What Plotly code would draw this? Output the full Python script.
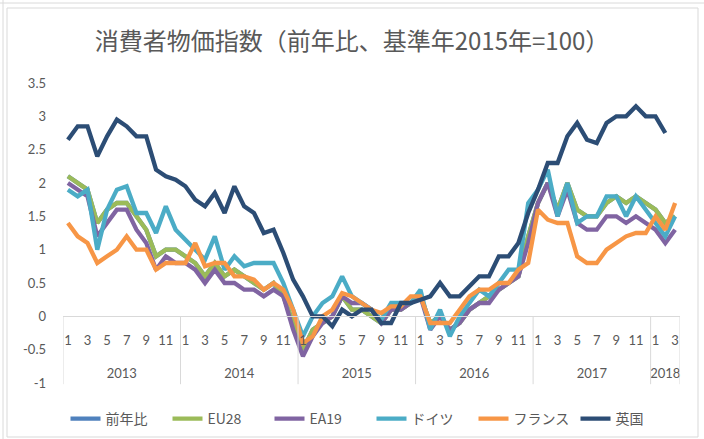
import plotly.graph_objects as go

# ---- data (monthly, Jan 2013 - Mar 2018) ----
years = ["2013", "2014", "2015", "2016", "2017", "2018"]
months_per_year = [12, 12, 12, 12, 12, 3]
month_labels = ["1", "3", "5", "7", "9", "11"]

yoy = [2.1, 2.0, 1.9, 1.4, 1.6, 1.7, 1.7, 1.5, 1.3, 0.9, 1.0, 1.0,
       0.9, 0.8, 0.6, 0.8, 0.6, 0.7, 0.6, 0.5, 0.4, 0.5, 0.3, -0.1,
       -0.5, -0.2, -0.1, 0.0, 0.3, 0.1, 0.1, 0.0, -0.1, 0.1, 0.1, 0.2,
       0.3, -0.1, 0.0, -0.2, -0.1, 0.1, 0.2, 0.3, 0.4, 0.5, 0.6, 1.2,
       1.7, 2.0, 1.6, 2.0, 1.6, 1.5, 1.5, 1.7, 1.8, 1.7, 1.8, 1.7,
       1.6, 1.4, 1.5]

eu28 = [2.1, 2.0, 1.9, 1.4, 1.6, 1.7, 1.7, 1.5, 1.3, 0.9, 1.0, 1.0,
        0.9, 0.8, 0.6, 0.8, 0.6, 0.7, 0.6, 0.5, 0.4, 0.5, 0.3, -0.1,
        -0.5, -0.2, -0.1, 0.0, 0.3, 0.1, 0.1, 0.0, -0.1, 0.1, 0.1, 0.2,
        0.3, -0.1, 0.0, -0.2, -0.1, 0.1, 0.2, 0.3, 0.4, 0.5, 0.6, 1.2,
        1.7, 2.0, 1.6, 2.0, 1.6, 1.5, 1.5, 1.7, 1.8, 1.7, 1.8, 1.7,
        1.6, 1.4, 1.5]

ea19 = [2.0, 1.9, 1.8, 1.2, 1.4, 1.6, 1.6, 1.3, 1.1, 0.7, 0.9, 0.8,
        0.8, 0.7, 0.5, 0.7, 0.5, 0.5, 0.4, 0.4, 0.3, 0.4, 0.3, -0.2,
        -0.6, -0.3, -0.1, 0.0, 0.3, 0.2, 0.2, 0.1, -0.1, 0.1, 0.1, 0.2,
        0.3, -0.2, 0.0, -0.2, -0.1, 0.1, 0.2, 0.2, 0.4, 0.5, 0.6, 1.1,
        1.7, 2.0, 1.5, 1.9, 1.4, 1.3, 1.3, 1.5, 1.5, 1.4, 1.5, 1.4,
        1.3, 1.1, 1.3]

germany = [1.9, 1.8, 1.9, 1.0, 1.6, 1.9, 1.95, 1.55, 1.55, 1.25, 1.65, 1.3,
           1.15, 1.0, 0.85, 1.2, 0.7, 0.9, 0.75, 0.8, 0.8, 0.8, 0.5, 0.1,
           -0.3, 0.0, 0.2, 0.3, 0.6, 0.3, 0.2, 0.1, -0.05, 0.2, 0.2, 0.2,
           0.4, -0.2, 0.1, -0.3, 0.0, 0.2, 0.4, 0.3, 0.5, 0.7, 0.7, 1.7,
           1.9, 2.2, 1.5, 2.0, 1.4, 1.5, 1.5, 1.8, 1.8, 1.5, 1.8, 1.6,
           1.4, 1.2, 1.5]

france = [1.4, 1.2, 1.1, 0.8, 0.9, 1.0, 1.2, 1.0, 1.0, 0.7, 0.8, 0.8,
          0.8, 1.1, 0.75, 0.8, 0.8, 0.6, 0.6, 0.55, 0.4, 0.5, 0.4, 0.1,
          -0.4, -0.3, 0.0, 0.1, 0.35, 0.3, 0.2, 0.1, 0.05, 0.15, 0.15, 0.3,
          0.3, -0.1, -0.1, -0.1, 0.1, 0.3, 0.4, 0.4, 0.5, 0.5, 0.7, 0.8,
          1.6, 1.45, 1.4, 1.4, 0.9, 0.8, 0.8, 1.0, 1.1, 1.2, 1.25, 1.25,
          1.5, 1.3, 1.7]

uk = [2.65, 2.85, 2.85, 2.4, 2.7, 2.95, 2.85, 2.7, 2.7, 2.2, 2.1, 2.05,
      1.95, 1.75, 1.65, 1.85, 1.55, 1.95, 1.65, 1.55, 1.25, 1.3, 0.95, 0.55,
      0.3, 0.0, 0.0, -0.15, 0.1, 0.0, 0.1, 0.1, -0.1, -0.1, 0.2, 0.2,
      0.25, 0.3, 0.5, 0.3, 0.3, 0.45, 0.6, 0.6, 0.9, 0.9, 1.1, 1.55,
      1.9, 2.3, 2.3, 2.7, 2.9, 2.65, 2.6, 2.9, 3.0, 3.0, 3.15, 3.0,
      3.0, 2.75]

series_names = ["前年比", "EU28", "EA19", "ドイツ", "フランス", "英国"]
series_colors = ["#4F81BD", "#9BBB59", "#8064A2", "#4BACC6", "#F79646", "#2C4D75"]
series_values = [yoy, eu28, ea19, germany, france, uk]

y_tickvals = [-1, -0.5, 0, 0.5, 1, 1.5, 2, 2.5, 3, 3.5]
y_ticktext = ["-1", "-0.5", "0", "0.5", "1", "1.5", "2", "2.5", "3", "3.5"]

title_text = "消費者物価指数（前年比、基準年2015年=100）"

# ---- derived category positions ----
n_total = sum(months_per_year)
x_idx = list(range(n_total))
month_tickvals, month_ticktext = [], []
year_centers, bounds = [], [-0.5]
start = 0
for yname, n in zip(years, months_per_year):
    for m in range(0, n, 2):
        month_tickvals.append(start + m)
        month_ticktext.append(month_labels[m // 2])
    year_centers.append(start + (n - 1) / 2)
    start += n
    bounds.append(start - 0.5)

YMIN, YMAX = -1, 3.5
zero_frac = (0 - YMIN) / (YMAX - YMIN)

GRAY = "#595959"
FONT = "Lato, Noto Sans CJK JP, sans-serif"
JFONT = "Noto Sans CJK JP, sans-serif"

fig = go.Figure()
for name, col, vals in zip(series_names, series_colors, series_values):
    fig.add_trace(go.Scatter(
        x=x_idx[:len(vals)], y=vals, mode="lines", name=name,
        line=dict(color=col, width=4.3), xaxis="x", yaxis="y"))

# year label axis (overlay)
fig.add_trace(go.Scatter(x=[0], y=[None], xaxis="x2", yaxis="y",
                         showlegend=False, hoverinfo="skip"))


def px_x(p):
    return (p - 63) / 617


def px_y(p):
    return (383 - p) / 300


shapes = []
for b in bounds:
    shapes.append(dict(type="line", xref="x", yref="paper", x0=b, x1=b,
                       y0=zero_frac, y1=-0.004,
                       line=dict(color="#d9d9d9", width=1)))
# chart border
shapes.append(dict(type="rect", xref="paper", yref="paper",
                   x0=px_x(7), x1=px_x(698), y0=px_y(437), y1=px_y(8),
                   line=dict(color="#d9d9d9", width=1), layer="below"))
# surrounding sheet cell lines
shapes.append(dict(type="line", xref="paper", yref="paper",
                   x0=px_x(0), x1=px_x(704), y0=px_y(3), y1=px_y(3),
                   line=dict(color="#dadada", width=1), layer="below"))
shapes.append(dict(type="line", xref="paper", yref="paper",
                   x0=px_x(3), x1=px_x(3), y0=px_y(0), y1=px_y(439),
                   line=dict(color="#dadada", width=1), layer="below"))

fig.update_layout(
    width=704, height=439,
    margin=dict(l=63, r=24, t=83, b=56, autoexpand=False),
    paper_bgcolor="white", plot_bgcolor="white",
    title=dict(text=title_text, x=0.5, xanchor="center",
               y=1 - 42 / 439, yanchor="middle", automargin=False,
               font=dict(family=JFONT, size=24, color=GRAY)),
    xaxis=dict(range=[-0.5, n_total - 0.5], anchor="free", position=zero_frac,
               showline=True, linecolor="#d9d9d9", linewidth=1,
               tickvals=month_tickvals, ticktext=month_ticktext, ticks="",
               ticklabelstandoff=12, automargin=False,
               tickfont=dict(family=FONT, size=13, color=GRAY),
               showgrid=False, zeroline=False),
    xaxis2=dict(range=[-0.5, n_total - 0.5], overlaying="x", anchor="free",
                position=(383 - 364) / 300, side="bottom", automargin=False,
                showline=False, tickvals=year_centers, ticktext=years, ticks="",
                tickfont=dict(family=FONT, size=13, color=GRAY),
                showgrid=False, zeroline=False),
    yaxis=dict(range=[YMIN, YMAX], tickvals=y_tickvals, ticktext=y_ticktext,
               showgrid=False, zeroline=False, showline=False, ticks="",
               ticklabelstandoff=16, automargin=False,
               tickfont=dict(family=FONT, size=13, color=GRAY)),
    legend=dict(orientation="h", x=0.5, xanchor="center",
                y=(383 - 419) / 300, yanchor="middle",
                font=dict(family=JFONT, size=14, color=GRAY),
                entrywidth=57, entrywidthmode="pixels"),
    shapes=shapes,
    showlegend=True,
)

fig.write_html("out.html",
               config={"displayModeBar": False},
               post_script="document.body.style.margin='0';"
                           "document.body.style.overflow='hidden';")
